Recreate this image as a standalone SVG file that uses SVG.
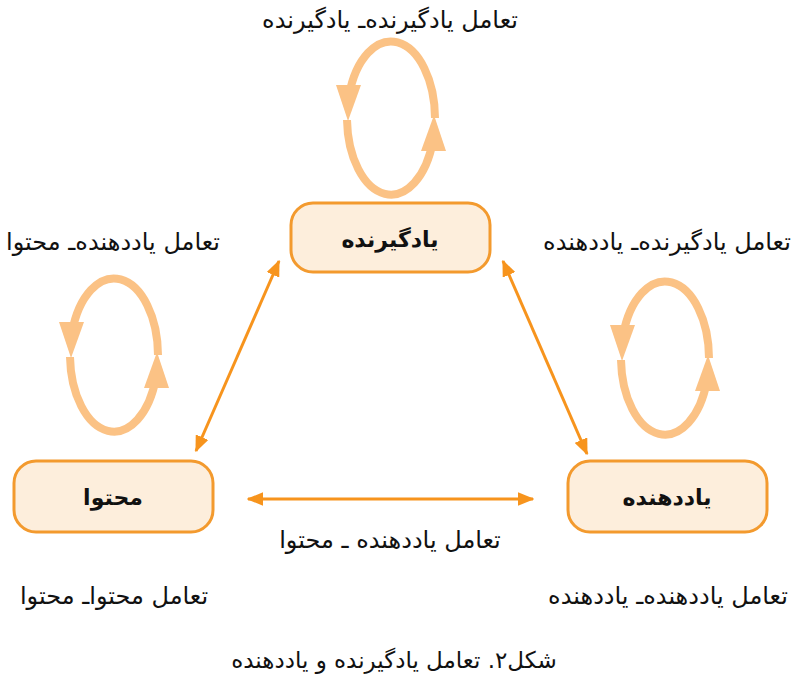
<svg xmlns="http://www.w3.org/2000/svg" xmlns:xlink="http://www.w3.org/1999/xlink" width="800" height="676" viewBox="0 0 800 676">
<style>
  .node rect { fill: #FDEEDC; stroke: #F39A2E; stroke-width: 3; }
  .nlabel { font-family: "DejaVu Sans", "Noto Sans", sans-serif; font-size: 22px; font-weight: bold; fill: #111; text-anchor: middle; }
  .label { font-family: "DejaVu Sans", "Noto Sans", sans-serif; font-size: 24px; fill: #111; text-anchor: middle; }
  .caption { font-family: "DejaVu Sans", "Noto Sans", sans-serif; font-size: 23px; fill: #111; text-anchor: middle; }
  .conn { stroke: #F7941D; stroke-width: 3; fill: none; }
  .loop { stroke: #FBC285; stroke-width: 8; fill: none; }
  .loophead { fill: #FBC285; }
</style>
<defs>
  <marker id="ah" viewBox="0 0 12 10" refX="11" refY="5" markerWidth="5.5" markerHeight="4.6" orient="auto-start-reverse" markerUnits="strokeWidth">
    <path d="M0,0 L12,5 L0,10 Z" fill="#F7941D"/>
  </marker>
  <g id="loop">
    <path class="loop" d="M44,0 A44 77 0 0 0 -41.9,-23"/>
    <polygon class="loophead" points="-55,-33 -30,-33 -43,3"/>
    <path class="loop" d="M-44,2 A44 77 0 0 0 41.9,23"/>
    <polygon class="loophead" points="30,33 55,33 43,-3"/>
  </g>
</defs>
<rect width="800" height="676" fill="#ffffff"/>

<g id="connectors">
  <line class="conn" x1="196" y1="451" x2="279" y2="261" marker-start="url(#ah)" marker-end="url(#ah)"/>
  <line class="conn" x1="503" y1="261" x2="587" y2="454" marker-start="url(#ah)" marker-end="url(#ah)"/>
  <line class="conn" x1="248" y1="499" x2="533" y2="499" marker-start="url(#ah)" marker-end="url(#ah)"/>
</g>

<g id="loops">
  <use xlink:href="#loop" transform="translate(391,118)"/>
  <use xlink:href="#loop" transform="translate(114,355)"/>
  <use xlink:href="#loop" transform="translate(665,358)"/>
</g>

<g id="node-learner" class="node">
  <rect x="291" y="203" width="199" height="69" rx="22"/>
  <text class="nlabel" x="390" y="247" direction="rtl">یادگیرنده</text>
</g>
<g id="node-content" class="node">
  <rect x="14" y="461" width="199" height="71" rx="22"/>
  <text class="nlabel" x="113" y="505" direction="rtl">محتوا</text>
</g>
<g id="node-teacher" class="node">
  <rect x="568" y="461" width="199" height="71" rx="22"/>
  <text class="nlabel" x="667" y="505" direction="rtl">یاددهنده</text>
</g>

<g id="labels">
  <text class="label" x="390" y="28" direction="rtl">تعامل یادگیرنده‌ـ یادگیرنده</text>
  <text class="label" x="113" y="250" direction="rtl">تعامل یاددهنده‌ـ محتوا</text>
  <text class="label" x="667" y="250" direction="rtl">تعامل یادگیرنده‌ـ یاددهنده</text>
  <text class="label" x="390" y="548" direction="rtl">تعامل یاددهنده ـ محتوا</text>
  <text class="label" x="114" y="604" direction="rtl">تعامل محتوا‌ـ محتوا</text>
  <text class="label" x="668" y="604" direction="rtl">تعامل یاددهنده‌ـ یاددهنده</text>
  <text class="caption" x="394" y="668" direction="rtl">شکل۲. تعامل یادگیرنده و یاددهنده</text>
</g>
</svg>
